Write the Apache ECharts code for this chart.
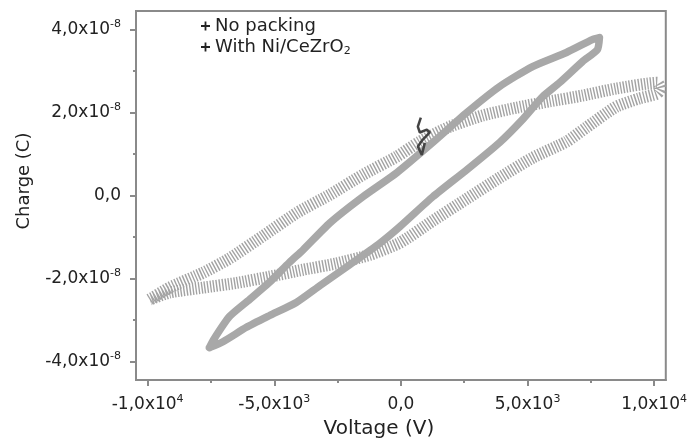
<!DOCTYPE html>
<html><head><meta charset="utf-8">
<script src="https://cdn.jsdelivr.net/npm/echarts@6/dist/echarts.min.js"></script>
<style>html,body{margin:0;padding:0;background:#fff}#c{width:690px;height:445px}</style>
</head><body><div id="c"></div>
<script>
// No packing (parallelogram loop)
const noPackingV = [-9920, -9130, -7800, -6770, -5430, -4090, -2800, -1500, -160, 750, 1930, 3230, 4570, 5870, 7170, 8500, 10120, 10240, 10120, 9410, 8500, 7320, 6540, 5200, 3900, 2600, 1260, -40, -1220, -2560, -3860, -5200, -6500, -7800, -9130, -9920];
const noPackingQ = [-2.51e-8, -2.22e-8, -1.86e-8, -1.52e-8, -0.97e-8, -0.41e-8, 0.02e-8, 0.50e-8, 0.94e-8, 1.30e-8, 1.66e-8, 1.93e-8, 2.12e-8, 2.27e-8, 2.41e-8, 2.58e-8, 2.72e-8, 2.58e-8, 2.46e-8, 2.34e-8, 2.14e-8, 1.64e-8, 1.30e-8, 0.91e-8, 0.43e-8, -0.08e-8, -0.61e-8, -1.14e-8, -1.43e-8, -1.64e-8, -1.79e-8, -1.96e-8, -2.11e-8, -2.22e-8, -2.34e-8, -2.51e-8];
// With Ni/CeZrO2 (narrow elliptical loop)
const niCeZrO2V = [-7560, -7400, -6770, -5980, -5200, -4410, -3860, -2800, -1500, -160, 1260, 2600, 3900, 5200, 6540, 7560, 7840, 7760, 7170, 6260, 5590, 4800, 3900, 2600, 1260, -40, -830, -2090, -3190, -4130, -5200, -6100, -7010, -7560];
const niCeZrO2Q = [-3.67e-8, -3.48e-8, -2.92e-8, -2.51e-8, -2.10e-8, -1.62e-8, -1.31e-8, -0.66e-8, -0.03e-8, 0.55e-8, 1.28e-8, 2.00e-8, 2.63e-8, 3.11e-8, 3.45e-8, 3.76e-8, 3.81e-8, 3.52e-8, 3.23e-8, 2.72e-8, 2.38e-8, 1.83e-8, 1.28e-8, 0.62e-8, -0.03e-8, -0.75e-8, -1.15e-8, -1.70e-8, -2.17e-8, -2.58e-8, -2.90e-8, -3.18e-8, -3.52e-8, -3.67e-8];
// small dark spike near 0.8 kV
const spikeV = [787, 669, 748, 1024, 1142, 866, 669, 827, 945];
const spikeQ = [1.88e-8, 1.66e-8, 1.52e-8, 1.59e-8, 1.52e-8, 1.35e-8, 1.18e-8, 0.98e-8, 1.27e-8];

const xTickValues = [-10000, -5000, 0, 5000, 10000];
const xTickBase = ['-1,0x10', '-5,0x10', '0,0', '5,0x10', '1,0x10'];
const xTickExp = ['4', '3', '', '3', '4'];
const xMinorTicks = [-7500, -2500, 2500, 7500];
const yTickValues = [-4e-8, -2e-8, 0, 2e-8, 4e-8];
const yTickBase = ['-4,0x10', '-2,0x10', '0,0', '2,0x10', '4,0x10'];
const yTickExp = ['-8', '-8', '', '-8', '-8'];
const yMinorTicks = [-3e-8, -1e-8, 1e-8, 3e-8];
const seriesNames = ['No packing', 'With Ni/CeZrO2'];

const FONT = 'DejaVu Sans';
const AXC = '#8a8a8a';
function pairs(a, b) { return a.map((v, i) => [v, b[i]]); }
function fmt(values, base, exp) {
  return function (v) {
    let k = 0, d = Infinity;
    values.forEach((t, i) => { const dd = Math.abs(t - v); if (dd < d) { d = dd; k = i; } });
    return exp[k] ? '{b|' + base[k] + '}{s|' + exp[k] + '}' : '{b|' + base[k] + '}';
  };
}
const tickRich = {
  b: { fontSize: 17, lineHeight: 22, fontFamily: FONT, color: '#222' },
  s: { fontSize: 11, lineHeight: 12, verticalAlign: 'top', fontFamily: FONT, color: '#222' }
};
const xRange = { min: -10460, max: 10460 };
const yRange = { min: -4.45e-8, max: 4.45e-8 };

const chart = echarts.init(document.getElementById('c'), null, { renderer: 'canvas' });
chart.setOption({
  animation: false,
  backgroundColor: '#fff',
  grid: { left: 136, right: 23, top: 11, bottom: 65, show: true, borderColor: AXC, borderWidth: 2, containLabel: false },
  legend: {
    data: seriesNames,
    orient: 'vertical', left: 201, top: 17, padding: 0, itemGap: 3,
    icon: 'path://M4,0h2v4h4v2h-4v4h-2v-4h-4v-2h4z',
    itemWidth: 9, itemHeight: 9,
    itemStyle: { color: '#222', borderWidth: 0 },
    lineStyle: { width: 0 },
    formatter: function (name) {
      return name === 'With Ni/CeZrO2' ? '{a|With Ni/CeZrO}{sub|2}' : '{a|' + name + '}';
    },
    textStyle: {
      rich: {
        a: { fontSize: 18, lineHeight: 20, fontFamily: FONT, color: '#222' },
        sub: { fontSize: 11, lineHeight: 8, verticalAlign: 'bottom', fontFamily: FONT, color: '#222' }
      }
    }
  },
  xAxis: [
    Object.assign({
      type: 'value', position: 'bottom',
      name: 'Voltage (V)', nameLocation: 'middle', nameGap: 39,
      nameTextStyle: { fontSize: 20, fontFamily: FONT, color: '#222', padding: [0, 44, 0, 0] },
      axisLine: { show: true, onZero: false, lineStyle: { color: AXC, width: 2 } },
      axisTick: { show: true, length: 6, customValues: xTickValues, lineStyle: { color: AXC, width: 2 } },
      axisLabel: { customValues: xTickValues, margin: 14, formatter: fmt(xTickValues, xTickBase, xTickExp), rich: tickRich },
      splitLine: { show: false }
    }, xRange),
    Object.assign({
      type: 'value', position: 'bottom',
      axisLine: { show: false, onZero: false },
      axisTick: { show: true, length: 3, customValues: xMinorTicks, lineStyle: { color: AXC, width: 2 } },
      axisLabel: { show: false },
      splitLine: { show: false }
    }, xRange)
  ],
  yAxis: [
    Object.assign({
      type: 'value', position: 'left',
      name: 'Charge (C)', nameLocation: 'middle', nameGap: 103,
      nameTextStyle: { fontSize: 18, fontFamily: FONT, color: '#222', padding: [0, 0, 0, 29] },
      axisLine: { show: true, onZero: false, lineStyle: { color: AXC, width: 2 } },
      axisTick: { show: true, length: 6, customValues: yTickValues, lineStyle: { color: AXC, width: 2 } },
      axisLabel: { customValues: yTickValues, margin: 15, formatter: fmt(yTickValues, yTickBase, yTickExp), rich: tickRich },
      splitLine: { show: false }
    }, yRange),
    Object.assign({
      type: 'value', position: 'left',
      axisLine: { show: false, onZero: false },
      axisTick: { show: true, length: 3, customValues: yMinorTicks, lineStyle: { color: AXC, width: 2 } },
      axisLabel: { show: false },
      splitLine: { show: false }
    }, yRange)
  ],
  series: [
    {
      name: seriesNames[0], type: 'line', xAxisIndex: 0, yAxisIndex: 0,
      data: pairs(noPackingV, noPackingQ), showSymbol: false, symbol: 'none', smooth: 0.2,
      itemStyle: { color: '#a3a3a3' },
      lineStyle: { color: '#a3a3a3', width: 12, type: [1.4, 1.6], cap: 'butt', join: 'bevel' }
    },
    {
      name: seriesNames[1], type: 'line', xAxisIndex: 0, yAxisIndex: 0,
      data: pairs(niCeZrO2V, niCeZrO2Q), showSymbol: false, symbol: 'none', smooth: 0.2,
      itemStyle: { color: '#a8a8a8' },
      lineStyle: { color: '#a8a8a8', width: 7.5, join: 'round', cap: 'round' }
    },
    {
      name: 'spike', type: 'line', xAxisIndex: 0, yAxisIndex: 0,
      data: pairs(spikeV, spikeQ), showSymbol: false, symbol: 'none',
      lineStyle: { color: '#444', width: 2.5 }
    }
  ]
});
</script></body></html>
